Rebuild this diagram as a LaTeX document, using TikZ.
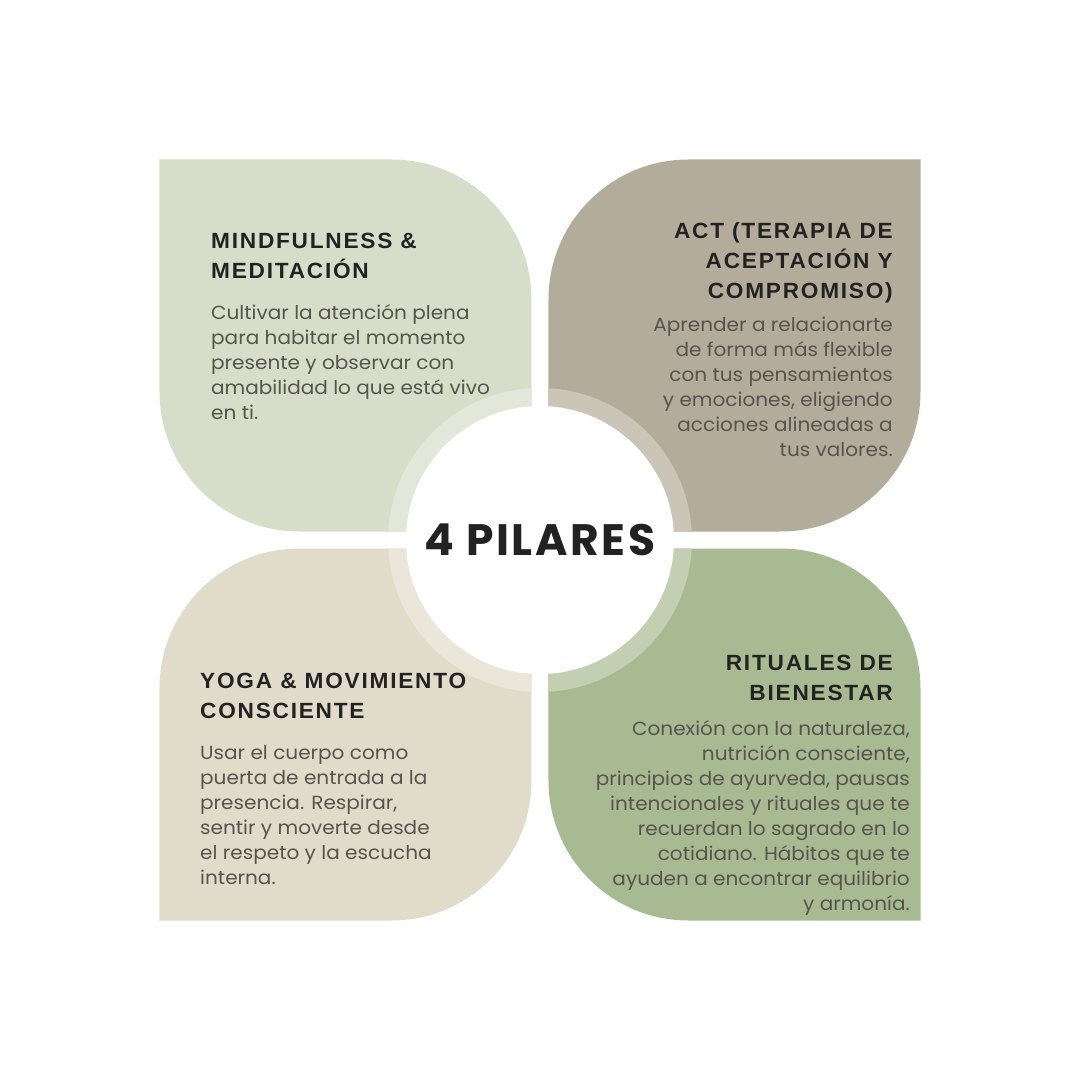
\documentclass[tikz,border=0pt]{standalone}
\usepackage{fontspec}
\setmainfont{Poppins}[FakeStretch=1.055]
\newfontfamily\headfont{Liberation Sans}[LetterSpace=8, FakeStretch=1.03]
\newfontfamily\titlefont{Poppins}[LetterSpace=6]

\definecolor{petaloA}{HTML}{D6DEC9}
\definecolor{petaloB}{HTML}{B4AC9A}
\definecolor{petaloC}{HTML}{E1DCCA}
\definecolor{petaloD}{HTML}{A8BA91}
\definecolor{anilloA}{HTML}{E3E7DA}
\definecolor{anilloB}{HTML}{CBC5B8}
\definecolor{anilloC}{HTML}{EAE6DA}
\definecolor{anilloD}{HTML}{C3CFB3}
\definecolor{tinta}{HTML}{222222}
\definecolor{gristexto}{HTML}{57534E}

\tikzset{
    titulo/.style={inner sep=0pt, text=tinta, font=\headfont\bfseries\fontsize{22}{30}\selectfont},
    cuerpo/.style={inner sep=0pt, text=gristexto, font=\fontsize{19}{25}\selectfont},
}

\begin{document}
\begin{tikzpicture}[x=1pt, y=1pt]

    \fill[white] (-540,-540) rectangle (540,540);
    \useasboundingbox (-540,-540) rectangle (540,540);

    \def\r{140}

    % -------------------------------
    % Pétalos
    % -------------------------------
    \fill[petaloA] (-380.5,380.5) -- (-8.5-\r,380.5) arc[start angle=90, end angle=0, radius=\r]
        -- (-8.5,8.5) -- (-380.5+\r,8.5) arc[start angle=270, end angle=180, radius=\r] -- cycle;
    \fill[petaloB] (380.5,380.5) -- (380.5,8.5+\r) arc[start angle=0, end angle=-90, radius=\r]
        -- (8.5,8.5) -- (8.5,380.5-\r) arc[start angle=180, end angle=90, radius=\r] -- cycle;
    \fill[petaloC] (-380.5,-380.5) -- (-380.5,-8.5-\r) arc[start angle=180, end angle=90, radius=\r]
        -- (-8.5,-8.5) -- (-8.5,-380.5+\r) arc[start angle=0, end angle=-90, radius=\r] -- cycle;
    \fill[petaloD] (380.5,-380.5) -- (380.5,-8.5-\r) arc[start angle=0, end angle=90, radius=\r]
        -- (8.5,-8.5) -- (8.5,-380.5+\r) arc[start angle=180, end angle=270, radius=\r] -- cycle;

    % anillo central, un cuarto por pétalo
    \foreach \a/\c in {90/anilloA, 0/anilloB, 180/anilloC, 270/anilloD} {
        \fill[\c] (\a+45:12.02) -- (\a+3.2:152) arc[start angle=\a+3.2, end angle=\a+86.8, radius=152] -- cycle;
    }

    \node[circle, fill=white, minimum size=268pt, inner sep=0pt, text=tinta,
          font=\titlefont\bfseries\fontsize{44}{50}\selectfont] (centro) at (0,0) {4 PILARES};

    % -------------------------------
    % Mindfulness
    % -------------------------------
    \node[titulo, anchor=north west, align=left] (mindTit) at (-329,307)
        {MINDFULNESS \&\\MEDITACIÓN};
    \node[cuerpo, anchor=north west, align=left] (mindTxt) at (-329,236)
        {Cultivar la atención plena\\para habitar el momento\\presente y observar con\\amabilidad lo que está vivo\\en ti.};

    % -------------------------------
    % ACT
    % -------------------------------
    \node[titulo, anchor=north east, align=right] (actTit) at (353,318)
        {ACT (TERAPIA DE\\ACEPTACIÓN Y\\COMPROMISO)};
    \node[cuerpo, anchor=north east, align=right] (actTxt) at (353,223)
        {Aprender a relacionarte\\de forma más flexible\\con tus pensamientos\\y emociones, eligiendo\\acciones alineadas a\\tus valores.};

    % -------------------------------
    % Yoga
    % -------------------------------
    \node[titulo, anchor=north west, align=left] (yogaTit) at (-340,-133)
        {YOGA \& MOVIMIENTO\\CONSCIENTE};
    \node[cuerpo, anchor=north west, align=left] (yogaTxt) at (-340,-205)
        {Usar el cuerpo como\\puerta de entrada a la\\presencia. Respirar,\\sentir y moverte desde\\el respeto y la escucha\\interna.};

    % -------------------------------
    % Rituales
    % -------------------------------
    \node[titulo, anchor=north east, align=right] (ritTit) at (353,-115)
        {RITUALES DE\\BIENESTAR};
    \node[cuerpo, anchor=north east, align=right] (ritTxt) at (370,-180)
        {Conexión con la naturaleza,\\nutrición consciente,\\principios de ayurveda, pausas\\intencionales y rituales que te\\recuerdan lo sagrado en lo\\cotidiano. Hábitos que te\\ayuden a encontrar equilibrio\\y armonía.\hspace{5pt}};

\end{tikzpicture}
\end{document}
